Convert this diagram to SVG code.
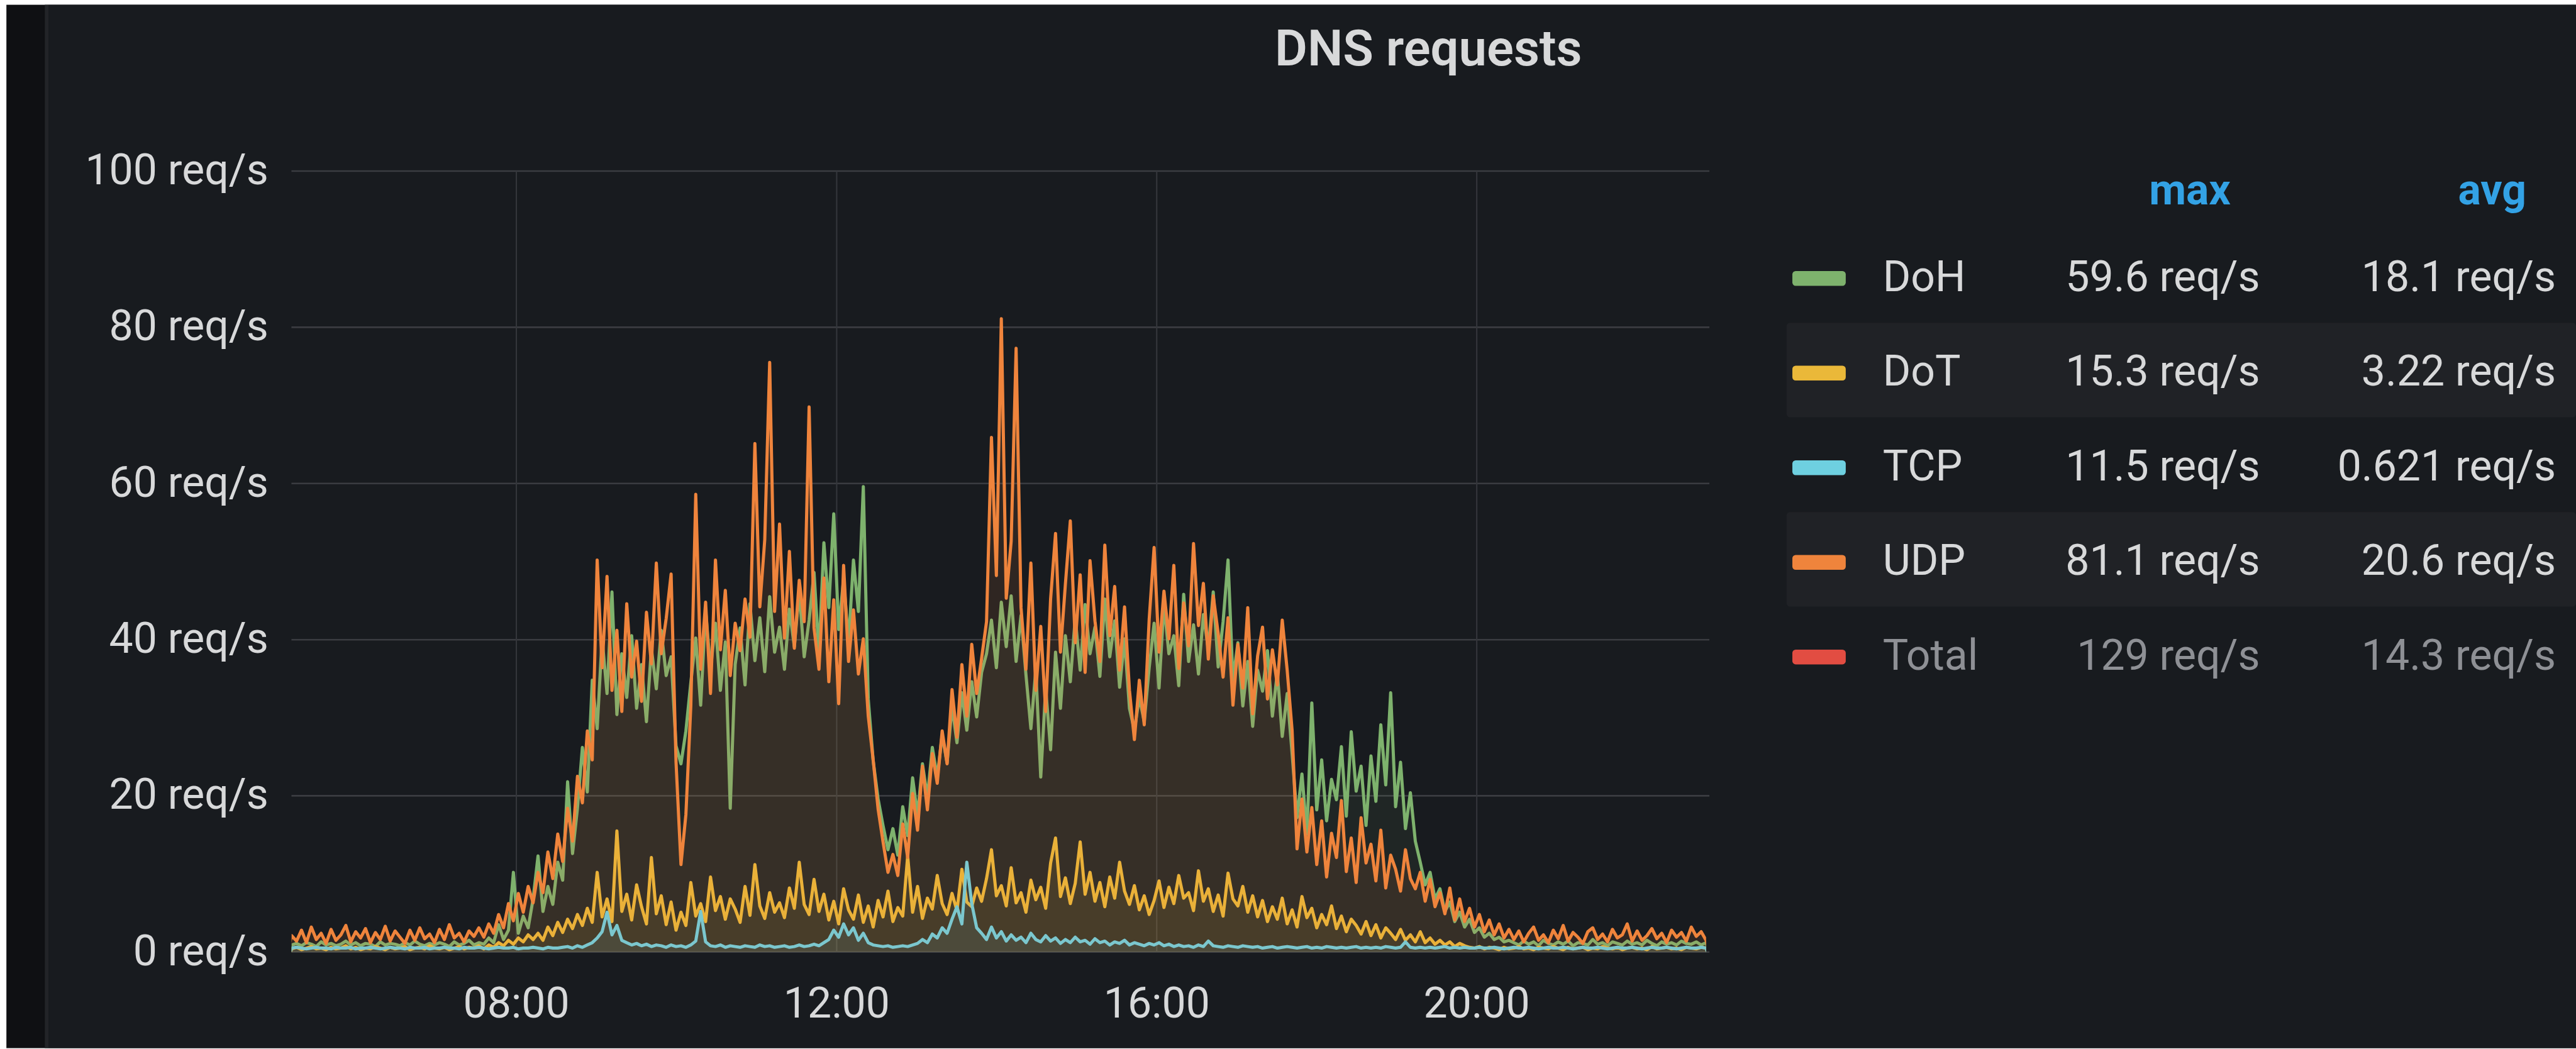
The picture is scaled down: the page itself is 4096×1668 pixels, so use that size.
<svg xmlns="http://www.w3.org/2000/svg" width="4096" height="1668" viewBox="0 0 4096 1668">
<style>
.t{font-family:Roboto,"Liberation Sans",sans-serif;font-size:26px;fill:#d8d9da}
.ttl{font-family:Roboto,"Liberation Sans",sans-serif;font-size:30.5px;font-weight:600;fill:#d8d9da}
.hd{font-family:Roboto,"Liberation Sans",sans-serif;font-size:26px;font-weight:700;fill:#33a2e5}
.dim{fill:#8e9095}
.gh{stroke:#3a3c41;stroke-width:1}
.gv{stroke:#34363b;stroke-width:0.8}
.s{stroke-width:5;stroke-linejoin:round}
.doh{stroke:#7eb26d;fill:#7eb26d;fill-opacity:0.08}
.dot{stroke:#eab839;fill:#eab839;fill-opacity:0.1}
.tcp{stroke:#6ed0e0;fill:#6ed0e0;fill-opacity:0.1}
.udp{stroke:#ef843c;fill:#ef843c;fill-opacity:0.11}
.band{fill:#202226}
</style>
<defs>
<clipPath id="plot" clipPathUnits="userSpaceOnUse"><rect x="0" y="0" width="287" height="110"/></clipPath>
</defs>
<g transform="scale(2.61224)">
<g id="background">
<rect x="0" y="0" width="1568" height="638" fill="#ffffff"/>
<rect x="3.9" y="2.9" width="1564.1" height="635.1" fill="#0f1013"/>
<rect x="27.3" y="2.9" width="2.2" height="635.1" fill="#222428"/>
<rect x="29.5" y="2.9" width="1538.5" height="635.1" fill="#181b1f"/>
</g>
<g id="title"><text class="ttl" x="869.5" y="39.7" text-anchor="middle">DNS requests</text></g>
<g id="grid">
<line class="gh" x1="177.4" y1="104.1" x2="1040.5" y2="104.1"/>
<line class="gh" x1="177.4" y1="199.2" x2="1040.5" y2="199.2"/>
<line class="gh" x1="177.4" y1="294.3" x2="1040.5" y2="294.3"/>
<line class="gh" x1="177.4" y1="389.4" x2="1040.5" y2="389.4"/>
<line class="gh" x1="177.4" y1="484.4" x2="1040.5" y2="484.4"/>
<line class="gh" x1="177.4" y1="579.5" x2="1040.5" y2="579.5"/>
<line class="gv" x1="314.3" y1="104.1" x2="314.3" y2="579.5"/>
<line class="gv" x1="509.3" y1="104.1" x2="509.3" y2="579.5"/>
<line class="gv" x1="704.1" y1="104.1" x2="704.1" y2="579.5"/>
<line class="gv" x1="898.9" y1="104.1" x2="898.9" y2="579.5"/>
</g>
<g id="y-axis" text-anchor="end">
<text class="t" x="163.4" y="112.1">100 req/s</text>
<text class="t" x="163.4" y="207.2">80 req/s</text>
<text class="t" x="163.4" y="302.3">60 req/s</text>
<text class="t" x="163.4" y="397.4">40 req/s</text>
<text class="t" x="163.4" y="492.4">20 req/s</text>
<text class="t" x="163.4" y="587.5">0 req/s</text>
</g>
<g id="x-axis" text-anchor="middle">
<text class="t" x="314.3" y="619.5">08:00</text>
<text class="t" x="509.3" y="619.5">12:00</text>
<text class="t" x="704.1" y="619.5">16:00</text>
<text class="t" x="898.9" y="619.5">20:00</text>
</g>
<g id="series" transform="translate(177.5 579.5) scale(3 -4.754)">
<g clip-path="url(#plot)">
<path id="series-doh" class="s doh" vector-effect="non-scaling-stroke" d="M-2,-3 L0,0.9 1,1.1 2,0.8 3,1.2 4,1 5,0.7 6,1.3 7,0.9 8,1.1 9,0.8 10,1 11,1.4 12,0.9 13,1.2 14,0.8 15,1.1 16,1 17,0.7 18,1.3 19,0.9 20,1.1 21,1 22,0.8 23,1.2 24,0.9 25,1.4 26,1 27,0.8 28,1.1 29,0.9 30,1.2 31,1 32,0.7 33,1.3 34,0.9 35,1.1 36,1.5 37,0.9 38,1.2 39,1 40,1.8 41,1.2 42,3.5 43,1.6 44,2.8 45,10.2 46,2.4 47,4.6 48,3.1 49,6.8 50,12.3 51,5.2 52,8.4 53,6.1 54,11.5 55,9.2 56,21.8 57,12.6 58,18.4 59,26.2 60,20.5 61,34.8 62,28.6 63,40.2 64,33.1 65,46.1 66,30.4 67,38.2 68,32.6 69,40.5 70,31.2 71,36.8 72,29.5 73,38.9 74,33.7 75,41.2 76,35.4 77,37.8 78,26.4 79,24.1 80,28.3 81,34.5 82,40.2 83,31.6 84,43.8 85,36.2 86,42.1 87,33.5 88,39.7 89,18.4 90,36.8 91,41.5 92,34.2 93,44.6 94,37.3 95,42.8 96,35.9 97,45.5 98,38.4 99,41.6 100,36.2 101,43.9 102,39.1 103,46.2 104,37.8 105,42.5 106,48.6 107,38.2 108,52.4 109,44.1 110,56.1 111,41.3 112,47.8 113,39.5 114,50.2 115,43.6 116,59.6 117,32.4 118,24.5 119,19.6 120,16.2 121,13.1 122,15.8 123,12.4 124,18.6 125,14.9 126,22.3 127,17.5 128,24.1 129,19.8 130,26.2 131,22.4 132,27.8 133,24.2 134,31.5 135,26.8 136,33.2 137,28.4 138,34.6 139,30.1 140,35.8 141,38.2 142,42.5 143,36.4 144,44.8 145,39.1 146,45.6 147,37.2 148,43.1 149,35.5 150,28.6 151,36.2 152,22.4 153,33.8 154,25.9 155,38.4 156,31.2 157,40.5 158,34.6 159,42.8 160,36.1 161,44.5 162,38.2 163,41.6 164,35.3 165,45.2 166,37.8 167,42.4 168,33.9 169,40.1 170,31.2 171,28.4 172,32.6 173,29.5 174,36.4 175,42.1 176,33.8 177,44.6 178,38.2 179,40.5 180,34.1 181,45.8 182,37.2 183,41.9 184,35.6 185,43.2 186,38.8 187,46.1 188,36.5 189,42.3 190,50.2 191,34.8 192,39.6 193,31.5 194,37.2 195,28.9 196,36.1 197,33.4 198,38.6 199,30.2 200,35.8 201,27.6 202,33.1 203,25.4 204,17.2 205,22.8 206,15.1 207,31.9 208,18.2 209,24.6 210,16.8 211,22.1 212,19.5 213,26.3 214,17.4 215,28.2 216,20.6 217,23.8 218,16.2 219,25.1 220,19.3 221,29.1 222,21.4 223,33.2 224,18.6 225,24.3 226,15.8 227,20.4 228,14.2 229,11.5 230,8.6 231,10.2 232,6.8 233,8.1 234,5.2 235,6.4 236,3.9 237,5.1 238,3.2 239,4.2 240,2.5 241,3.1 242,1.9 243,2.4 244,1.6 245,1.9 246,1.3 247,1.5 248,1.2 249,0.9 250,1.4 251,1 252,1.3 253,0.8 254,1.5 255,1.1 256,0.9 257,1.3 258,1 259,1.4 260,0.8 261,1.2 262,1.1 263,0.9 264,1.6 265,1 266,1.2 267,0.8 268,1.3 269,1.1 270,0.9 271,1.4 272,1 273,1.2 274,0.9 275,1.5 276,1.1 277,0.8 278,1.3 279,1 280,1.2 281,0.9 282,1.4 283,1.1 284,1 285,1.3 286,0.9 287,1.2 L289,-3 Z"/>
<path id="series-dot" class="s dot" vector-effect="non-scaling-stroke" d="M-2,-3 L0,0.4 1,0.6 2,0.3 3,0.5 4,0.7 5,0.4 6,0.5 7,0.3 8,0.6 9,0.4 10,0.5 11,0.8 12,0.4 13,0.6 14,0.3 15,0.5 16,0.4 17,0.7 18,0.5 19,0.3 20,0.6 21,0.4 22,0.5 23,0.7 24,0.3 25,0.5 26,0.6 27,0.4 28,0.8 29,0.5 30,0.4 31,0.6 32,0.3 33,0.5 34,0.7 35,0.4 36,0.6 37,0.5 38,0.8 39,0.4 40,0.9 41,0.6 42,1.2 43,0.8 44,1.5 45,1 46,1.8 47,1.3 48,2.2 49,1.6 50,2.4 51,1.5 52,3.2 53,2.1 54,3.8 55,2.5 56,4.2 57,3 58,4.8 59,3.4 60,5.6 61,3.8 62,10.2 63,4.5 64,6.8 65,3.9 66,15.5 67,5.2 68,7.4 69,4.1 70,8.6 71,5.8 72,3.6 73,12.1 74,4.9 75,7.2 76,3.5 77,6.4 78,2.8 79,5.1 80,3.4 81,8.9 82,4.6 83,6.2 84,3.9 85,9.6 86,5.3 87,7.1 88,4.2 89,6.8 90,5.5 91,3.8 92,8.4 93,4.7 94,11.2 95,5.9 96,4.3 97,7.6 98,5.1 99,6.3 100,4.4 101,8.2 102,5.6 103,11.5 104,6.1 105,4.8 106,9.3 107,5.2 108,7.4 109,4.1 110,6.5 111,3.6 112,8.1 113,5.4 114,4.2 115,7.3 116,3.8 117,5.9 118,3.2 119,6.6 120,4.5 121,7.8 122,3.9 123,5.7 124,4.6 125,12.3 126,5.1 127,8.4 128,4.3 129,6.9 130,5.5 131,9.8 132,6.2 133,4.8 134,7.5 135,5.3 136,10.6 137,6.4 138,5.8 139,8.2 140,6.5 141,9.4 142,13.1 143,7.2 144,8.5 145,5.9 146,10.8 147,6.3 148,7.6 149,5.1 150,9.2 151,6.7 152,8.3 153,5.6 154,11.4 155,14.6 156,7.1 157,9.5 158,6.2 159,8.8 160,14.1 161,7.4 162,10.2 163,6.5 164,8.9 165,5.8 166,9.6 167,6.9 168,11.5 169,7.8 170,6.1 171,8.5 172,5.4 173,7.2 174,4.8 175,6.6 176,9.1 177,5.7 178,8.3 179,6.2 180,9.8 181,6.9 182,7.6 183,5.3 184,10.4 185,6.5 186,8.1 187,5.2 188,7.3 189,4.6 190,10.1 191,6.8 192,5.9 193,8.4 194,5.1 195,7.2 196,4.5 197,6.6 198,3.9 199,5.8 200,4.2 201,6.9 202,3.6 203,5.4 204,3.2 205,7.1 206,4.4 207,5.6 208,3.1 209,4.8 210,3.5 211,5.9 212,3 213,4.6 214,2.6 215,4.2 216,3.4 217,2.3 218,3.9 219,2.1 220,3.5 221,1.8 222,3.1 223,2.4 224,1.6 225,2.9 226,1.5 227,2.2 228,1.3 229,2.6 230,1.2 231,1.8 232,1 233,1.5 234,0.9 235,1.3 236,0.7 237,1.1 238,0.8 239,0.6 240,0.5 241,0.7 242,0.4 243,0.6 244,0.5 245,0.3 246,0.6 247,0.4 248,0.5 249,0.7 250,0.4 251,0.5 252,0.3 253,0.6 254,0.5 255,0.4 256,0.7 257,0.5 258,0.3 259,0.6 260,0.4 261,0.5 262,0.6 263,0.3 264,0.5 265,0.4 266,0.7 267,0.5 268,0.4 269,0.6 270,0.3 271,0.5 272,0.6 273,0.4 274,0.5 275,0.3 276,0.7 277,0.4 278,0.5 279,0.6 280,0.4 281,0.5 282,0.3 283,0.6 284,0.5 285,0.4 286,0.6 287,0.5 L289,-3 Z"/>
<path id="series-tcp" class="s tcp" vector-effect="non-scaling-stroke" d="M-2,-3 L0,0.5 1,0.6 2,0.5 3,0.4 4,0.5 5,0.6 6,0.5 7,0.5 8,0.4 9,0.6 10,0.5 11,0.5 12,0.6 13,0.4 14,0.5 15,0.5 16,0.6 17,0.5 18,0.4 19,0.5 20,0.6 21,0.5 22,0.5 23,0.4 24,0.6 25,0.5 26,0.5 27,0.6 28,0.4 29,0.5 30,0.5 31,0.6 32,0.5 33,0.5 34,0.4 35,0.6 36,0.5 37,0.5 38,0.6 39,0.5 40,0.4 41,0.5 42,0.6 43,0.5 44,0.5 45,0.6 46,0.4 47,0.5 48,0.5 49,0.6 50,0.5 51,0.4 52,0.6 53,0.5 54,0.5 55,0.6 56,0.7 57,0.5 58,0.8 59,0.6 60,0.9 61,1.2 62,1.8 63,2.6 64,5.1 65,2.2 66,3.4 67,1.5 68,1.2 69,0.9 70,1.1 71,0.8 72,1 73,0.7 74,0.9 75,0.8 76,0.6 77,0.9 78,0.7 79,0.8 80,0.6 81,0.9 82,1.4 83,5.2 84,1.3 85,0.8 86,0.7 87,0.9 88,0.6 89,0.8 90,0.7 91,0.6 92,0.8 93,0.7 94,0.6 95,0.9 96,0.7 97,0.8 98,0.6 99,0.7 100,0.8 101,0.6 102,0.7 103,0.9 104,0.7 105,0.8 106,1 107,0.8 108,1.2 109,1.6 110,2.8 111,1.9 112,3.6 113,2.2 114,3.1 115,1.5 116,2.4 117,1.2 118,0.9 119,0.8 120,0.7 121,0.8 122,0.6 123,0.7 124,0.8 125,0.7 126,0.9 127,1.1 128,1.6 129,1.2 130,2.3 131,1.8 132,3.1 133,2.4 134,4.2 135,5.8 136,3.6 137,11.5 138,6.2 139,3.1 140,2.4 141,1.6 142,3.2 143,1.8 144,2.6 145,1.4 146,2.2 147,1.5 148,1.9 149,1.2 150,2.4 151,1.6 152,1.3 153,2.1 154,1.4 155,1.8 156,1.1 157,1.6 158,1.2 159,1.9 160,1.3 161,1.5 162,1 163,1.7 164,1.2 165,1.4 166,0.9 167,1.3 168,1.1 169,1.5 170,0.9 171,1.2 172,1 173,0.8 174,1.1 175,0.9 176,1.2 177,0.8 178,1 179,0.7 180,0.9 181,0.7 182,0.8 183,0.6 184,0.9 185,0.7 186,1.4 187,0.8 188,0.7 189,0.6 190,0.8 191,0.7 192,0.6 193,0.8 194,0.7 195,0.6 196,0.7 197,0.5 198,0.6 199,0.7 200,0.5 201,0.6 202,0.7 203,0.6 204,0.5 205,0.6 206,0.7 207,0.5 208,0.6 209,0.5 210,0.7 211,0.6 212,0.5 213,0.6 214,0.5 215,0.6 216,0.7 217,0.5 218,0.6 219,0.5 220,0.6 221,0.5 222,0.7 223,0.6 224,0.5 225,0.6 226,1.3 227,0.6 228,0.5 229,0.6 230,0.5 231,0.6 232,0.5 233,0.6 234,0.7 235,0.5 236,0.6 237,0.5 238,0.6 239,0.5 240,0.5 241,0.6 242,0.5 243,0.5 244,0.6 245,0.5 246,0.4 247,0.5 248,0.6 249,0.5 250,0.5 251,0.6 252,0.5 253,0.4 254,0.5 255,0.6 256,0.5 257,0.5 258,0.6 259,0.5 260,0.4 261,0.5 262,0.6 263,0.5 264,0.5 265,0.6 266,0.5 267,0.4 268,0.5 269,0.6 270,0.5 271,0.5 272,0.6 273,0.5 274,0.4 275,0.5 276,0.6 277,0.5 278,0.5 279,0.6 280,0.5 281,0.4 282,0.5 283,0.6 284,0.5 285,0.5 286,0.6 287,0.5 L289,-3 Z"/>
<path id="series-udp" class="s udp" vector-effect="non-scaling-stroke" d="M-2,-3 L0,2.1 1,1.4 2,2.8 3,1.2 4,3.2 5,1.6 6,2.4 7,1.1 8,2.9 9,1.5 10,2.2 11,3.4 12,1.3 13,2.6 14,1.8 15,3 16,1.2 17,2.5 18,1.6 19,3.3 20,1.4 21,2.7 22,1.9 23,1.1 24,2.8 25,1.5 26,3.1 27,1.7 28,2.3 29,1.2 30,2.9 31,1.6 32,3.5 33,1.8 34,2.4 35,1.3 36,2.7 37,2 38,3.1 39,1.9 40,3.6 41,2.4 42,4.8 43,3.1 44,6.2 45,4 46,7.5 47,5.1 48,8.4 49,6.3 50,10.2 51,7.6 52,12.8 53,9.4 54,15.1 55,11.6 56,18.4 57,14.2 58,22.5 59,19.1 60,28.3 61,24.6 62,50.2 63,36.4 64,48.1 65,33.5 66,41.2 67,30.8 68,44.6 69,35.2 70,39.8 71,32.1 72,43.5 73,36.9 74,49.8 75,38.2 76,42.7 77,48.4 78,24.3 79,11.2 80,17.6 81,31.5 82,58.6 83,36.2 84,44.8 85,33.1 86,50.2 87,38.7 88,46.3 89,35.4 90,42.1 91,38.6 92,45.2 93,40.3 94,65.1 95,44.2 96,52.8 97,75.5 98,43.6 99,54.8 100,40.2 101,51.3 102,38.9 103,47.6 104,42.3 105,69.8 106,41.5 107,36.2 108,47.9 109,34.6 110,45.1 111,31.8 112,49.5 113,37.2 114,43.8 115,35.6 116,40.1 117,30.2 118,24.6 119,18.3 120,14.1 121,10.2 122,12.5 123,9.8 124,16.4 125,12.1 126,20.3 127,15.6 128,23.8 129,18.2 130,25.4 131,21.6 132,28.3 133,24.1 134,33.6 135,27.5 136,36.8 137,30.2 138,39.4 139,33.1 140,37.6 141,42.3 142,65.9 143,48.2 144,81.1 145,45.3 146,52.6 147,77.3 148,44.1 149,36.2 150,49.8 151,33.5 152,41.7 153,30.8 154,45.2 155,53.6 156,38.4 157,47.1 158,55.2 159,39.6 160,48.3 161,35.8 162,50.1 163,42.4 164,37.2 165,52.1 166,40.5 167,46.8 168,36.1 169,44.2 170,33.5 171,27.2 172,34.8 173,29.1 174,42.6 175,51.8 176,38.4 177,46.2 178,40.1 179,49.5 180,36.3 181,44.7 182,39.2 183,52.3 184,41.8 185,47.2 186,37.5 187,45.6 188,40.8 189,35.2 190,42.8 191,31.6 192,39.4 193,33.8 194,44.1 195,30.5 196,37.9 197,41.6 198,32.4 199,38.7 200,34.2 201,42.5 202,36.1 203,28.4 204,13.2 205,19.6 206,12.8 207,18.5 208,11.2 209,16.8 210,9.6 211,15.2 212,12.1 213,19.4 214,10.3 215,14.6 216,8.9 217,17.2 218,11.4 219,13.8 220,9.1 221,15.6 222,8.2 223,12.4 224,10.6 225,7.8 226,13.1 227,9.4 228,8.1 229,10.2 230,6.5 231,9.3 232,5.8 233,7.6 234,4.9 235,8.2 236,4.1 237,6.8 238,3.9 239,5.6 240,3.2 241,4.8 242,2.6 243,4.1 244,2.2 245,3.6 246,1.8 247,2.9 248,1.6 249,2.7 250,1.3 251,2.4 252,3.2 253,1.5 254,2.2 255,1.2 256,2.8 257,1.7 258,3.4 259,1.4 260,2.5 261,1.9 262,1.1 263,2.6 264,3.1 265,1.6 266,2.3 267,1.3 268,2.9 269,1.8 270,2.2 271,3.6 272,1.4 273,2.7 274,1.5 275,2.1 276,3 277,1.7 278,2.4 279,1.2 280,2.8 281,1.9 282,2.5 283,1.4 284,3.2 285,2 286,2.6 287,1.5 L289,-3 Z"/>
</g>
</g>
<g id="legend">
<rect class="band" x="1087.5" y="196.5" width="480.5" height="57.5" rx="2"/>
<rect class="band" x="1087.5" y="311.7" width="480.5" height="57.5" rx="2"/>
<text class="hd" x="1357.8" y="124.5" text-anchor="end">max</text>
<text class="hd" x="1537.8" y="124.5" text-anchor="end">avg</text>
<g id="legend-doh">
<rect x="1091" y="165" width="32.5" height="9" rx="2" fill="#7eb26d"/>
<text class="t" x="1146" y="177.2">DoH</text>
<text class="t" x="1375.7" y="177.2" text-anchor="end">59.6 req/s</text>
<text class="t" x="1555.8" y="177.2" text-anchor="end">18.1 req/s</text>
</g>
<g id="legend-dot">
<rect x="1091" y="222.6" width="32.5" height="9" rx="2" fill="#eab839"/>
<text class="t" x="1146" y="234.8">DoT</text>
<text class="t" x="1375.7" y="234.8" text-anchor="end">15.3 req/s</text>
<text class="t" x="1555.8" y="234.8" text-anchor="end">3.22 req/s</text>
</g>
<g id="legend-tcp">
<rect x="1091" y="280.2" width="32.5" height="9" rx="2" fill="#6ed0e0"/>
<text class="t" x="1146" y="292.4">TCP</text>
<text class="t" x="1375.7" y="292.4" text-anchor="end">11.5 req/s</text>
<text class="t" x="1555.8" y="292.4" text-anchor="end">0.621 req/s</text>
</g>
<g id="legend-udp">
<rect x="1091" y="337.8" width="32.5" height="9" rx="2" fill="#ef843c"/>
<text class="t" x="1146" y="350">UDP</text>
<text class="t" x="1375.7" y="350" text-anchor="end">81.1 req/s</text>
<text class="t" x="1555.8" y="350" text-anchor="end">20.6 req/s</text>
</g>
<g id="legend-total">
<rect x="1091" y="395.4" width="32.5" height="9" rx="2" fill="#e24d42"/>
<text class="t dim" x="1146" y="407.6">Total</text>
<text class="t dim" x="1375.7" y="407.6" text-anchor="end">129 req/s</text>
<text class="t dim" x="1555.8" y="407.6" text-anchor="end">14.3 req/s</text>
</g>
</g>
</g>
</svg>
